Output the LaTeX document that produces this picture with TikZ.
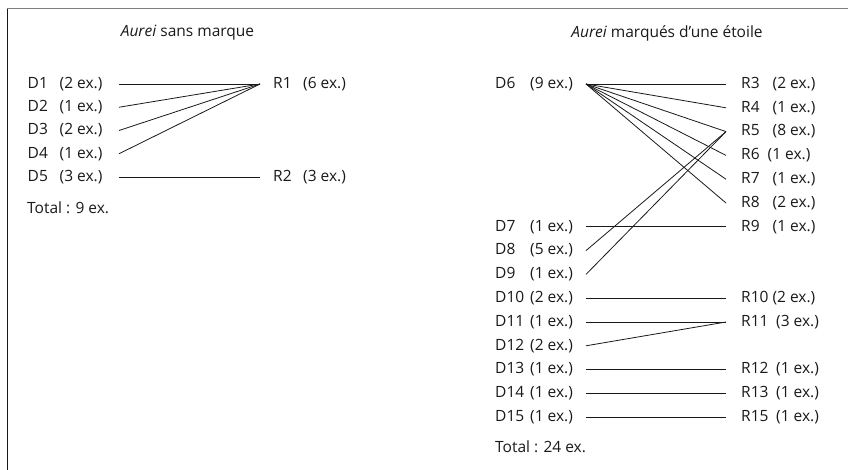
\documentclass[tikz,border=0pt]{standalone}
\usepackage{fontspec}
\setmainfont{Open Sans}
\usepackage{xcolor}
\usepackage{tikz}
\usetikzlibrary{positioning, calc}
\definecolor{framegray}{RGB}{125,125,125}
\definecolor{inkblack}{RGB}{25,25,25}
\tikzset{
    lbl/.style={
        anchor=west, inner sep=0pt, text=inkblack, font=\fontsize{15.5}{18}\selectfont
    },
    titlenode/.style={
        anchor=center, inner sep=0pt, text=inkblack, font=\fontsize{15.5}{18}\selectfont
    },
    link/.style={
        line width=0.8pt, inkblack
    }
}
\newcommand{\nm}[2][35pt]{\makebox[#1][l]{#2}}

\begin{document}
\begin{tikzpicture}[x=1pt, y=-1pt]
        \useasboundingbox (0,0) rectangle (848,470);

        % cadre
        \draw[framegray, line width=1pt] (7,9) -- (848,9);
        \draw[inkblack, line width=1pt] (7,9) -- (7,470);

        % ======================================
        % AUREI SANS MARQUE (A GAUCHE)
        % ======================================
        \node[titlenode] (titleL) at (187.5,33) {\textit{Aurei} sans marque};

        \coordinate (d1) at (119,84);
        \coordinate (d2) at (119,107.25);
        \coordinate (d3) at (119,130.5);
        \coordinate (d4) at (119,153.75);
        \coordinate (d5) at (119,177);
        \coordinate (r1) at (260,84);
        \coordinate (r2) at (260,177);

        \node[lbl] (d1l) at (27.5,84) {\nm[32pt]{D1}(2 ex.)};
        \node[lbl] (d2l) at (27.5,107.25) {\nm[32pt]{D2}(1 ex.)};
        \node[lbl] (d3l) at (27.5,130.5) {\nm[32pt]{D3}(2 ex.)};
        \node[lbl] (d4l) at (27.5,153.75) {\nm[32pt]{D4}(1 ex.)};
        \node[lbl] (d5l) at (27.5,177) {\nm[32pt]{D5}(3 ex.)};
        \node[lbl, right=13pt of r1] (r1l) {\nm[30pt]{R1}(6 ex.)};
        \node[lbl, right=13pt of r2] (r2l) {\nm[30pt]{R2}(3 ex.)};
        \node[lbl] (totalL) at (27,208) {Total : 9 ex.};

        \draw[link] (d1) -- (r1);
        \draw[link] (d2) -- (r1);
        \draw[link] (d3) -- (r1);
        \draw[link] (d4) -- (r1);
        \draw[link] (d5) -- (r2);

        % ======================================
        % AUREI MARQUES D'UNE ETOILE (A DROITE)
        % ======================================
        \node[titlenode] (titleR) at (667,33) {\textit{Aurei} marqués d’une étoile};

        % extrémités des traits
        \coordinate (d6) at (586,84);
        \coordinate (d7) at (586,226.8);
        \coordinate (d8) at (586,250.6);
        \coordinate (d9) at (586,274.4);
        \coordinate (d10) at (586,298.2);
        \coordinate (d11) at (586,322);
        \coordinate (d12) at (586,345.8);
        \coordinate (d13) at (586,369.6);
        \coordinate (d14) at (586,393.4);
        \coordinate (d15) at (586,417.2);
        \coordinate (r3) at (726,84);
        \coordinate (r4) at (726,107.8);
        \coordinate (r5) at (726,131.6);
        \coordinate (r6) at (726,155.4);
        \coordinate (r7) at (726,179.2);
        \coordinate (r8) at (726,203);
        \coordinate (r9) at (726,226.8);
        \coordinate (r10) at (726,298.2);
        \coordinate (r11) at (726,322);
        \coordinate (r12) at (726,369.6);
        \coordinate (r13) at (726,393.4);
        \coordinate (r15) at (726,417.2);

        % droits
        \node[lbl] (d6l) at (495,84) {\nm{D6}(9 ex.)};
        \node[lbl] (d7l) at (495,226.8) {\nm{D7}(1 ex.)};
        \node[lbl] (d8l) at (495,250.6) {\nm{D8}(5 ex.)};
        \node[lbl] (d9l) at (495,274.4) {\nm{D9}(1 ex.)};
        \node[lbl] (d10l) at (495,298.2) {\nm{D10}(2 ex.)};
        \node[lbl] (d11l) at (495,322) {\nm{D11}(1 ex.)};
        \node[lbl] (d12l) at (495,345.8) {\nm{D12}(2 ex.)};
        \node[lbl] (d13l) at (495,369.6) {\nm{D13}(1 ex.)};
        \node[lbl] (d14l) at (495,393.4) {\nm{D14}(1 ex.)};
        \node[lbl] (d15l) at (495,417.2) {\nm{D15}(1 ex.)};
        \node[lbl] (totalR) at (495,447) {Total : 24 ex.};

        % revers
        \node[lbl, right=15pt of r3] (r3l) {\nm[31.5pt]{R3}(2 ex.)};
        \node[lbl, right=15pt of r4] (r4l) {\nm[31.5pt]{R4}(1 ex.)};
        \node[lbl, right=15pt of r5] (r5l) {\nm[31.5pt]{R5}(8 ex.)};
        \node[lbl, right=15pt of r6] (r6l) {\nm[26.5pt]{R6}(1 ex.)};
        \node[lbl, right=15pt of r7] (r7l) {\nm[31.5pt]{R7}(1 ex.)};
        \node[lbl, right=15pt of r8] (r8l) {\nm[31.5pt]{R8}(2 ex.)};
        \node[lbl, right=15pt of r9] (r9l) {\nm[31.5pt]{R9}(1 ex.)};
        \node[lbl, right=15pt of r10] (r10l) {R10 (2 ex.)};
        \node[lbl, right=15pt of r11] (r11l) {\nm{R11}(3 ex.)};
        \node[lbl, right=15pt of r12] (r12l) {\nm{R12}(1 ex.)};
        \node[lbl, right=15pt of r13] (r13l) {\nm{R13}(1 ex.)};
        \node[lbl, right=15pt of r15] (r15l) {\nm{R15}(1 ex.)};

        \draw[link] (d6) -- (r3);
        \draw[link] (d6) -- (r4);
        \draw[link] (d6) -- (r5);
        \draw[link] (d6) -- (r6);
        \draw[link] (d6) -- (r7);
        \draw[link] (d6) -- (r8);
        \draw[link] (d7) -- (r9);
        \draw[link] (d8) -- (r5);
        \draw[link] (d9) -- (r5);
        \draw[link] (d10) -- (r10);
        \draw[link] (d11) -- (r11);
        \draw[link] (d12) -- (r11);
        \draw[link] (d13) -- (r12);
        \draw[link] (d14) -- (r13);
        \draw[link] (d15) -- (r15);

    \end{tikzpicture}
\end{document}
